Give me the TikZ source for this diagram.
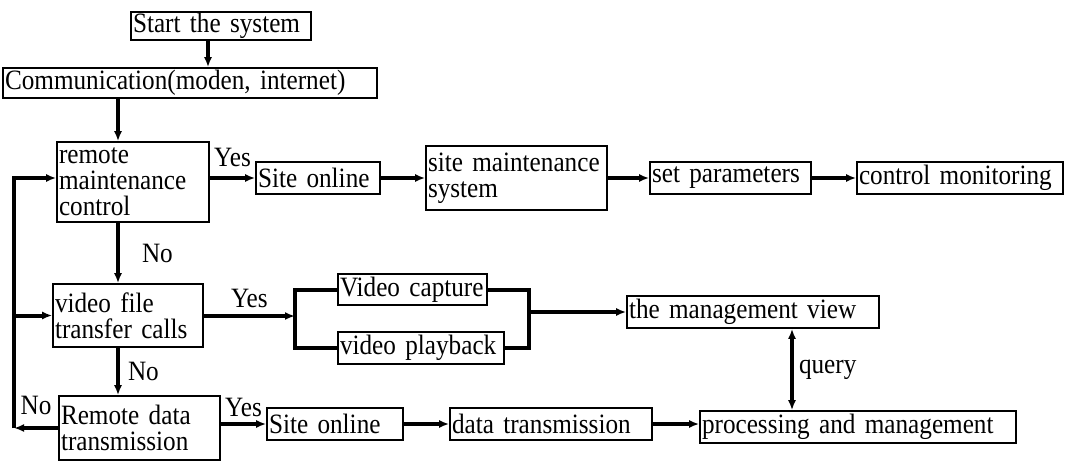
\documentclass[tikz,border=0pt]{standalone}
\usepackage{fontspec}
\setmainfont{Liberation Serif}[FakeStretch=0.9]
\usetikzlibrary{arrows.meta,positioning,calc}
\hyphenpenalty=10000
\exhyphenpenalty=10000

\begin{document}
\begin{tikzpicture}[
  x=0.5pt, y=-0.5pt,
  >={Latex[length=5pt,width=4pt]},
  blk/.style={
    rectangle, draw, line width=0.8pt,
    inner xsep=1pt, inner ysep=0pt,
    align=left, text width=#1,
    font=\fontsize{14}{13}\selectfont
  },
  arr/.style={->, line width=2pt},
  lnk/.style={line width=2pt},
  lbl/.style={font=\fontsize{14}{13}\selectfont, inner sep=1pt, midway}
]
\useasboundingbox (0,0) rectangle (1068,462);

% -- Inicio --
\node[blk=88pt,  minimum height=14pt] (start) at (221,  26) {Start the system};
\node[blk=185pt, minimum height=15pt] (comm)  at (190,  83) {Communication(moden, internet)};

% -- Linha de manutencao --
\node[blk=74pt,   minimum height=40pt] (rmc)  at (133,   182) {remote\\maintenance\\control};
\node[blk=60pt,   minimum height=16pt] (so1)  at (318,   178) {Site online};
\node[blk=88.5pt, minimum height=32pt] (sms)  at (516.5, 178) {site maintenance\\system};
\node[blk=78.5pt, minimum height=16pt] (setp) at (730.5, 178) {set parameters};
\node[blk=101pt,  minimum height=16pt] (ctrl) at (960,   178) {control monitoring};

% -- Linha de video --
\node[blk=73pt,   minimum height=31.5pt] (vftc)  at (128,   315.5) {video file\\transfer calls};
\node[blk=72.5pt, minimum height=15.5pt] (vcap)  at (412.5, 289.5) {Video capture};
\node[blk=81pt,   minimum height=16pt]   (vpb)   at (421,   348)   {video playback};
\node[blk=124pt,  minimum height=16pt]   (mview) at (753,   312)   {the management view};

% -- Linha de dados --
\node[blk=78.5pt, minimum height=32pt] (rdt) at (139.5, 428) {Remote data\\transmission};
\node[blk=66pt,   minimum height=16pt] (so2) at (335,   424) {Site online};
\node[blk=99pt,   minimum height=16pt] (dt)  at (551,   424) {data transmission};
\node[blk=156pt,  minimum height=16pt] (pm)  at (858,   427) {processing and management};

% -- Pontos auxiliares --
\coordinate (sx) at (208, 0);
\coordinate (sp) at (118, 0);
\coordinate (fb) at (14, 428);
\coordinate (bl) at (295, 316);
\coordinate (br) at (529, 312);
\coordinate (qx) at (792, 0);

% -- Conexoes --
\draw[arr] (start.south -| sx) -- (comm.north -| sx);
\draw[arr] (comm.south -| sp)  -- (rmc.north -| sp);

\draw[arr] (rmc.east |- so1.west) -- node[lbl, above=3.5pt]{Yes} (so1.west);
\draw[arr] (so1.east) -- (sms.west);
\draw[arr] (sms.east) -- (setp.west);
\draw[arr] (setp.east) -- (ctrl.west);

\draw[arr] (rmc.south -| sp) -- node[lbl, right=10pt]{No} (vftc.north -| sp);
\draw[arr] (vftc.east |- bl) -- node[lbl, above=2pt]{Yes} (bl);
\draw[lnk] (vcap.west) -| (bl) |- (vpb.west);
\draw[lnk] (vcap.east) -| (br) |- (vpb.east);
\draw[arr] (br) -- (mview.west);

\draw[arr] (vftc.south -| sp) -- node[lbl, right=3pt]{No} (rdt.north -| sp);
\draw[arr] (rdt.east |- so2.west) -- node[lbl, above=1.5pt]{Yes} (so2.west);
\draw[arr] (so2.east) -- (dt.west);
\draw[arr] (dt.east) -- (pm.west |- dt.east);

\draw[<->, line width=2pt] (mview.south -| qx) -- node[lbl, right=1.5pt]{query} (pm.north -| qx);

\draw[arr] (rdt.west) -- node[lbl, above=4.5pt]{No} (fb);
\draw[arr] (fb) |- (rmc.west |- so1.west);
\draw[arr] (fb |- vftc.west) -- (vftc.west);

\end{tikzpicture}
\end{document}
